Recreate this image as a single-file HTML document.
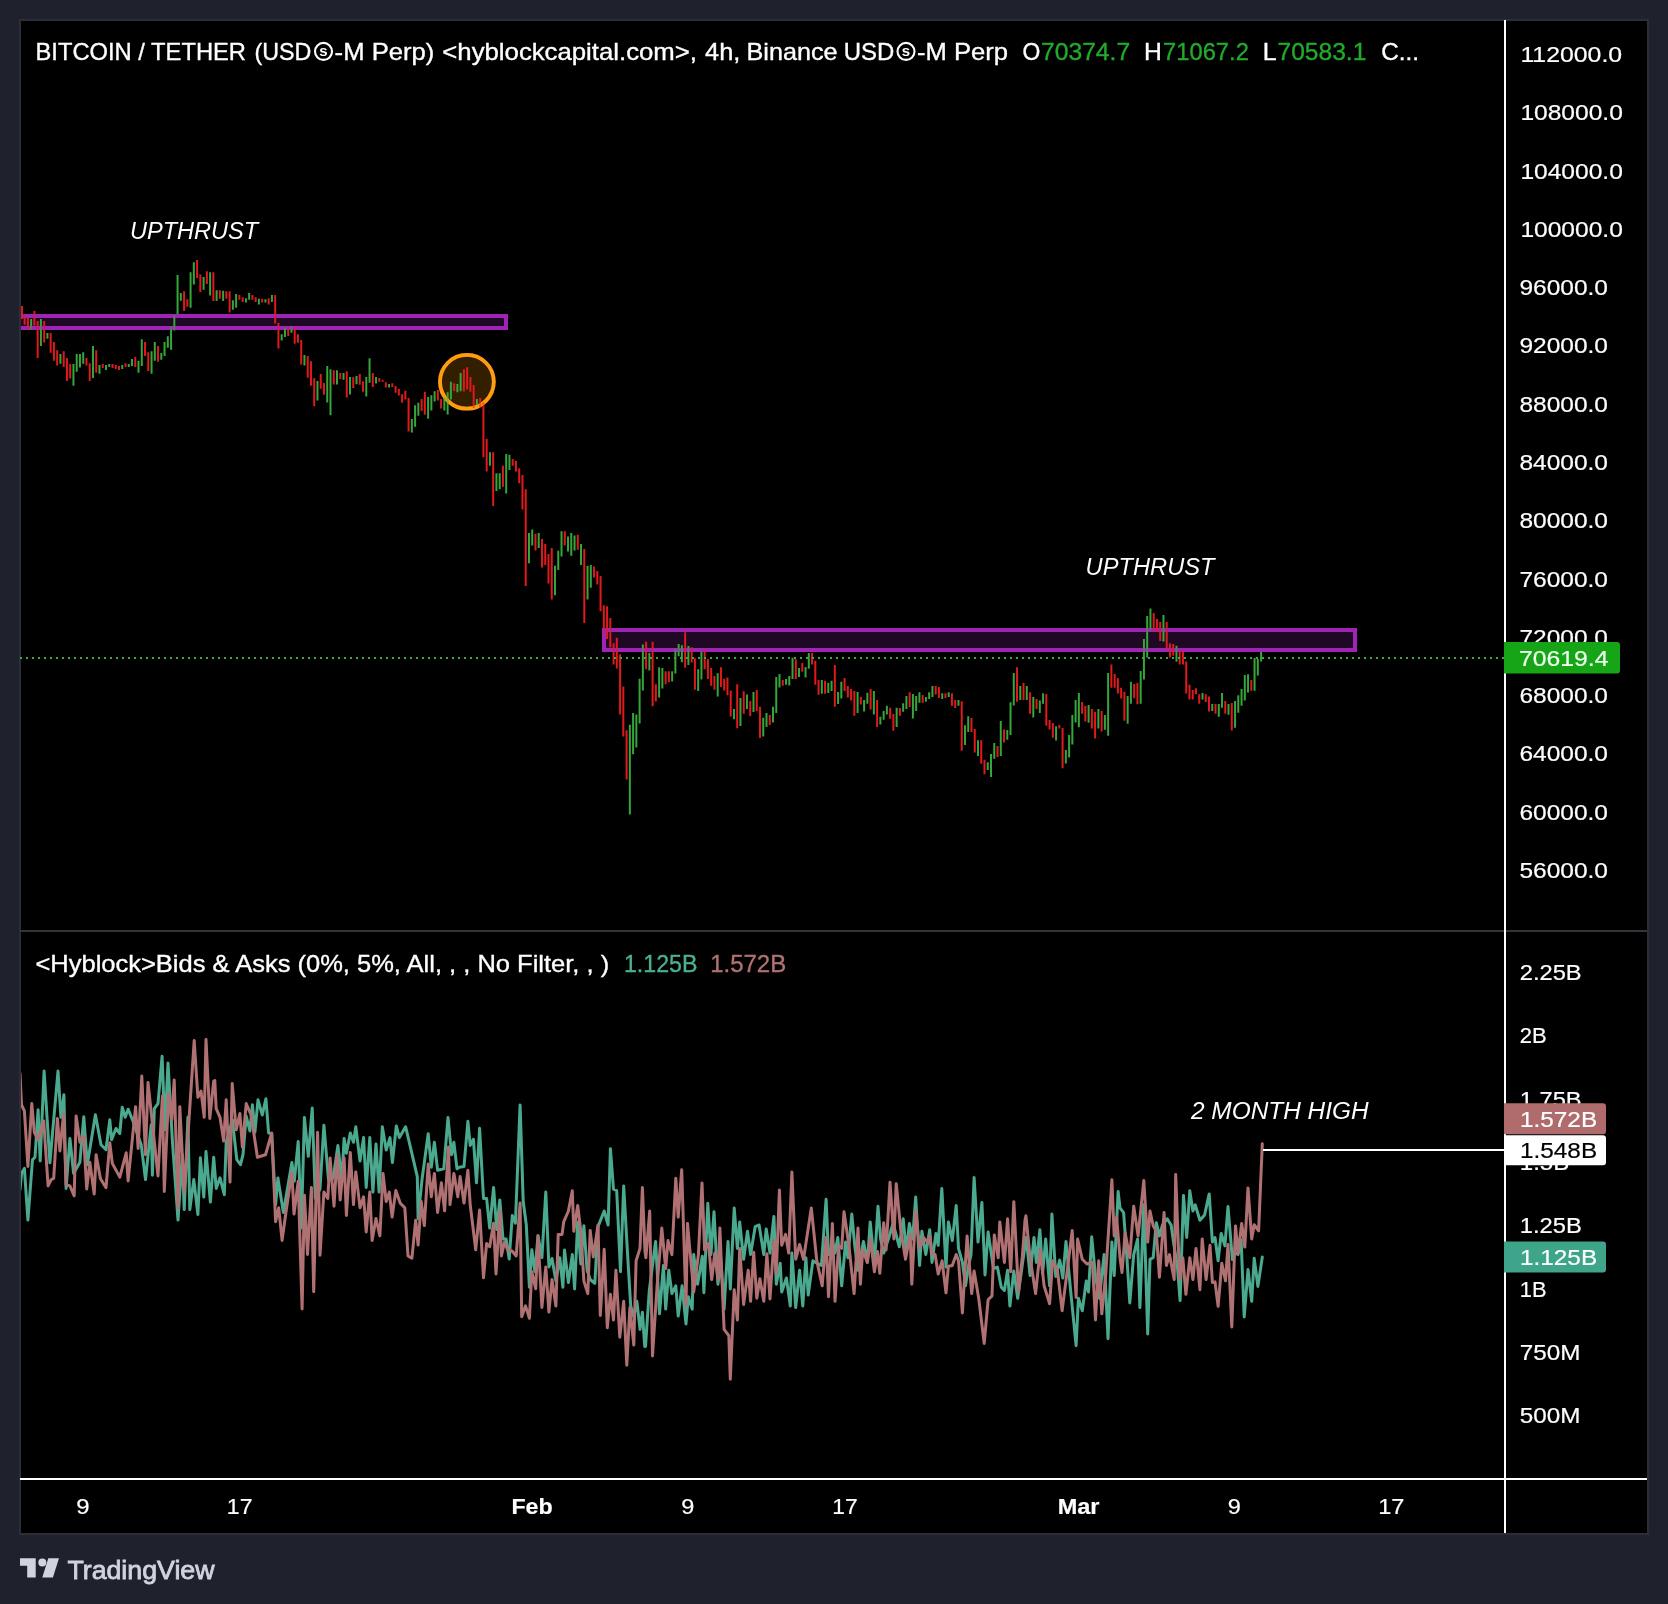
<!DOCTYPE html>
<html><head><meta charset="utf-8"><style>html,body{margin:0;padding:0;background:#1f222d;width:1668px;height:1604px;overflow:hidden}svg{display:block;will-change:transform}</style></head>
<body><svg width="1668" height="1604" viewBox="0 0 1668 1604"><rect x="0" y="0" width="1668" height="1604" fill="#1f222d"/><rect x="19" y="19" width="1630" height="1516" fill="#2b2e37"/><rect x="21" y="21" width="1626" height="1512" fill="#000"/><rect x="20" y="930" width="1627" height="2" fill="#333539"/><circle cx="466.9" cy="381.8" r="26.9" fill="rgba(255,152,0,0.2)" stroke="#ff9d12" stroke-width="3.8"/><rect x="21" y="316" width="485" height="12" fill="rgba(156,39,176,0.2)"/><path d="M21 316H506V328H21" fill="none" stroke="#a326ba" stroke-opacity="0.95" stroke-width="4"/><rect x="604" y="630" width="751" height="20" fill="rgba(156,39,176,0.2)" stroke="#a326ba" stroke-opacity="0.95" stroke-width="4"/><path d="M21.00 306.1h2v12.9h-2zM23.64 315.2h2v9.6h-2zM26.90 318.1h2v11.5h-2zM33.40 310.9h2v14.9h-2zM36.66 321.0h2v36.9h-2zM43.17 321.0h2v21.6h-2zM49.67 333.0h2v19.7h-2zM52.93 342.1h2v18.7h-2zM56.18 350.2h2v15.3h-2zM62.69 351.2h2v15.8h-2zM65.94 357.9h2v23.0h-2zM69.19 364.1h2v14.4h-2zM85.46 357.9h2v7.7h-2zM88.72 363.2h2v17.7h-2zM95.22 350.2h2v22.5h-2zM101.73 364.1h2v3.8h-2zM111.49 364.1h2v3.8h-2zM114.75 365.1h2v3.8h-2zM118.00 366.1h2v3.8h-2zM124.51 363.2h2v3.8h-2zM134.27 357.0h2v10.1h-2zM144.03 342.1h2v13.9h-2zM147.28 352.2h2v18.7h-2zM157.05 345.9h2v15.8h-2zM183.08 291.3h2v19.6h-2zM186.33 299.3h2v7.4h-2zM196.09 260.1h2v18.0h-2zM199.34 274.4h2v17.5h-2zM205.85 271.2h2v12.7h-2zM212.36 272.3h2v28.6h-2zM218.87 290.3h2v8.5h-2zM225.37 291.3h2v7.4h-2zM228.63 291.3h2v21.2h-2zM238.39 295.0h2v4.8h-2zM241.64 297.2h2v4.8h-2zM251.40 295.0h2v4.8h-2zM254.66 297.2h2v4.8h-2zM261.17 298.7h2v3.7h-2zM267.67 298.2h2v6.4h-2zM274.18 295.0h2v28.6h-2zM277.43 323.1h2v25.4h-2zM287.20 327.4h2v8.5h-2zM293.70 327.4h2v16.4h-2zM296.96 334.2h2v8.5h-2zM300.21 340.1h2v24.4h-2zM306.72 356.0h2v21.7h-2zM309.97 361.3h2v24.4h-2zM313.23 378.2h2v28.1h-2zM319.73 374.0h2v14.8h-2zM322.99 383.0h2v11.7h-2zM332.75 370.2h2v14.4h-2zM339.26 373.1h2v5.8h-2zM345.76 371.2h2v26.4h-2zM352.27 376.9h2v11.0h-2zM358.78 374.1h2v10.6h-2zM362.03 381.2h2v10.6h-2zM371.79 373.1h2v13.9h-2zM378.30 377.9h2v3.8h-2zM381.55 379.8h2v2.0h-2zM384.81 382.2h2v5.3h-2zM391.32 383.2h2v3.8h-2zM394.57 386.0h2v6.7h-2zM397.82 388.9h2v6.7h-2zM401.08 394.2h2v8.6h-2zM404.33 390.8h2v8.6h-2zM407.58 398.0h2v33.6h-2zM420.60 399.0h2v12.0h-2zM423.85 391.8h2v23.0h-2zM436.87 389.9h2v10.6h-2zM440.12 399.0h2v9.6h-2zM453.14 383.2h2v7.7h-2zM462.90 369.3h2v22.1h-2zM466.15 367.3h2v22.1h-2zM469.41 376.9h2v14.9h-2zM472.66 385.1h2v23.0h-2zM479.17 398.0h2v9.6h-2zM482.42 402.6h2v54.7h-2zM485.67 438.8h2v32.8h-2zM492.18 452.2h2v53.8h-2zM501.94 465.7h2v21.0h-2zM511.70 459.0h2v6.7h-2zM514.96 460.7h2v10.9h-2zM518.21 468.2h2v15.1h-2zM521.47 475.0h2v34.5h-2zM524.72 489.3h2v96.7h-2zM534.48 533.8h2v16.8h-2zM540.99 538.9h2v28.6h-2zM544.24 543.9h2v21.0h-2zM547.50 554.0h2v29.4h-2zM550.75 548.1h2v51.3h-2zM563.76 531.3h2v14.3h-2zM576.78 534.7h2v15.1h-2zM583.29 549.0h2v74.0h-2zM593.05 566.6h2v10.9h-2zM596.30 570.9h2v13.5h-2zM599.56 575.9h2v35.3h-2zM602.81 605.3h2v27.8h-2zM606.06 606.2h2v32.8h-2zM609.32 618.0h2v29.4h-2zM612.57 643.2h2v21.3h-2zM615.82 637.7h2v30.8h-2zM619.08 654.2h2v60.3h-2zM622.33 686.4h2v50.0h-2zM625.59 730.2h2v49.4h-2zM645.11 641.8h2v27.4h-2zM651.62 641.8h2v64.4h-2zM654.87 684.3h2v17.1h-2zM664.63 671.3h2v13.0h-2zM667.88 671.3h2v11.0h-2zM684.15 632.2h2v35.6h-2zM690.66 647.3h2v15.1h-2zM693.91 658.3h2v31.5h-2zM703.67 649.4h2v19.9h-2zM706.93 659.0h2v19.9h-2zM710.18 667.9h2v17.8h-2zM713.44 676.1h2v13.7h-2zM719.94 667.2h2v19.9h-2zM723.20 678.8h2v11.7h-2zM726.45 677.5h2v17.8h-2zM729.70 690.5h2v26.0h-2zM736.21 684.3h2v43.9h-2zM742.72 691.2h2v22.6h-2zM749.23 701.0h2v14.9h-2zM755.73 690.0h2v21.1h-2zM758.99 706.7h2v31.2h-2zM768.75 714.9h2v10.1h-2zM781.76 679.9h2v5.8h-2zM794.78 659.3h2v19.7h-2zM801.29 663.1h2v8.6h-2zM811.05 653.0h2v11.5h-2zM814.30 660.7h2v24.0h-2zM817.56 679.9h2v14.9h-2zM824.06 680.8h2v12.9h-2zM833.82 665.0h2v41.7h-2zM843.59 678.0h2v12.9h-2zM846.84 686.1h2v11.5h-2zM850.09 689.0h2v11.5h-2zM853.35 690.9h2v24.9h-2zM859.85 696.7h2v7.7h-2zM869.62 689.0h2v20.6h-2zM876.12 700.0h2v26.9h-2zM889.14 707.7h2v11.0h-2zM892.39 713.9h2v16.8h-2zM898.90 708.0h2v7.7h-2zM908.66 692.2h2v14.9h-2zM921.68 695.1h2v7.7h-2zM934.69 686.0h2v8.6h-2zM937.94 686.9h2v11.0h-2zM944.45 693.2h2v4.8h-2zM950.96 693.2h2v12.5h-2zM954.21 699.9h2v8.2h-2zM960.72 701.3h2v49.4h-2zM970.48 718.1h2v13.9h-2zM973.74 729.1h2v23.5h-2zM980.24 740.2h2v23.5h-2zM983.50 759.8h2v14.4h-2zM996.51 745.9h2v11.0h-2zM1003.02 729.6h2v12.9h-2zM1016.03 667.3h2v34.5h-2zM1022.54 683.1h2v16.8h-2zM1029.05 692.2h2v21.6h-2zM1035.56 698.9h2v10.1h-2zM1045.32 694.1h2v31.7h-2zM1048.57 720.0h2v9.6h-2zM1051.83 722.9h2v14.9h-2zM1058.33 725.0h2v3.6h-2zM1061.59 728.0h2v40.3h-2zM1081.11 701.9h2v11.8h-2zM1084.36 706.1h2v15.4h-2zM1090.87 709.0h2v19.5h-2zM1094.12 712.0h2v26.6h-2zM1100.63 710.8h2v20.7h-2zM1110.39 664.6h2v23.1h-2zM1113.65 674.1h2v13.6h-2zM1116.90 678.2h2v15.4h-2zM1120.15 687.7h2v10.7h-2zM1123.41 691.8h2v29.0h-2zM1133.17 684.1h2v14.2h-2zM1136.42 683.0h2v21.3h-2zM1152.69 613.1h2v18.9h-2zM1155.95 619.0h2v13.0h-2zM1159.20 622.0h2v18.9h-2zM1165.71 622.0h2v27.2h-2zM1168.96 643.3h2v14.2h-2zM1172.21 643.9h2v11.8h-2zM1178.72 650.4h2v14.2h-2zM1181.98 650.4h2v14.2h-2zM1185.23 661.6h2v32.0h-2zM1188.48 684.7h2v14.8h-2zM1191.74 690.1h2v9.5h-2zM1194.99 688.3h2v5.9h-2zM1198.24 694.2h2v9.5h-2zM1204.75 694.2h2v7.7h-2zM1208.01 696.6h2v14.8h-2zM1214.51 704.1h2v9.6h-2zM1224.27 701.0h2v12.7h-2zM1230.78 703.0h2v27.4h-2zM1250.30 680.1h2v10.6h-2z" fill="#e0191b"/><path d="M30.15 319.1h2v10.6h-2zM39.91 319.1h2v26.9h-2zM46.42 333.0h2v5.8h-2zM59.43 354.1h2v9.6h-2zM72.45 364.1h2v21.6h-2zM75.70 354.1h2v17.7h-2zM78.96 354.1h2v13.4h-2zM82.21 352.2h2v11.5h-2zM91.97 345.9h2v32.1h-2zM98.48 365.1h2v8.6h-2zM104.99 365.1h2v4.8h-2zM108.24 364.1h2v2.9h-2zM121.25 365.1h2v3.8h-2zM127.76 364.1h2v2.9h-2zM131.02 358.9h2v7.2h-2zM137.52 360.8h2v12.0h-2zM140.78 339.2h2v26.9h-2zM150.54 351.2h2v22.5h-2zM153.79 342.1h2v18.7h-2zM160.30 353.1h2v6.7h-2zM163.55 342.1h2v13.9h-2zM166.81 336.3h2v11.5h-2zM170.06 326.3h2v23.5h-2zM173.31 315.2h2v15.3h-2zM176.57 274.9h2v39.7h-2zM179.82 292.9h2v7.9h-2zM189.58 272.3h2v35.5h-2zM192.84 262.2h2v22.3h-2zM202.60 277.0h2v12.7h-2zM209.11 272.3h2v23.3h-2zM215.61 290.3h2v10.6h-2zM222.12 290.8h2v10.1h-2zM231.88 300.3h2v9.5h-2zM235.14 294.0h2v13.8h-2zM244.90 298.2h2v4.2h-2zM248.15 292.9h2v6.9h-2zM257.91 298.7h2v5.8h-2zM264.42 299.3h2v3.2h-2zM270.93 295.0h2v6.9h-2zM280.69 334.2h2v6.4h-2zM283.94 327.4h2v9.5h-2zM290.45 326.3h2v6.4h-2zM303.46 354.9h2v10.6h-2zM316.48 380.9h2v19.6h-2zM326.24 366.0h2v36.6h-2zM329.49 369.2h2v46.1h-2zM336.00 370.2h2v14.4h-2zM342.51 373.1h2v6.7h-2zM349.02 376.9h2v17.7h-2zM355.52 376.0h2v8.2h-2zM365.29 376.9h2v19.7h-2zM368.54 358.2h2v24.5h-2zM375.05 376.9h2v6.7h-2zM388.06 384.1h2v3.4h-2zM410.84 419.1h2v13.4h-2zM414.09 405.2h2v21.6h-2zM417.35 402.8h2v12.9h-2zM427.11 397.1h2v21.6h-2zM430.36 395.2h2v15.3h-2zM433.61 391.3h2v10.1h-2zM443.38 397.6h2v12.9h-2zM446.63 392.3h2v22.1h-2zM449.88 381.7h2v17.7h-2zM456.39 384.1h2v8.2h-2zM459.64 373.1h2v18.2h-2zM475.91 399.0h2v6.2h-2zM488.93 452.2h2v13.5h-2zM495.44 473.3h2v17.7h-2zM498.69 473.3h2v16.0h-2zM505.20 453.9h2v39.5h-2zM508.45 454.8h2v15.1h-2zM527.97 533.0h2v30.3h-2zM531.23 529.6h2v16.0h-2zM537.73 533.0h2v15.1h-2zM554.00 565.8h2v29.4h-2zM557.26 550.7h2v19.3h-2zM560.51 531.3h2v25.2h-2zM567.02 536.4h2v15.1h-2zM570.27 533.0h2v22.7h-2zM573.53 535.5h2v15.1h-2zM580.03 543.9h2v21.0h-2zM586.54 565.8h2v33.6h-2zM589.79 565.0h2v22.7h-2zM628.84 724.8h2v89.8h-2zM632.09 713.1h2v41.1h-2zM635.35 714.5h2v32.9h-2zM638.60 678.8h2v44.6h-2zM641.85 644.6h2v45.9h-2zM648.36 652.8h2v17.8h-2zM658.12 667.2h2v30.2h-2zM661.38 667.9h2v20.6h-2zM671.14 671.3h2v10.3h-2zM674.39 648.7h2v24.7h-2zM677.65 643.9h2v12.3h-2zM680.90 645.2h2v17.1h-2zM687.41 645.9h2v19.2h-2zM697.17 669.2h2v21.9h-2zM700.42 651.4h2v28.1h-2zM716.69 673.3h2v23.3h-2zM732.96 709.0h2v10.3h-2zM739.47 698.0h2v28.1h-2zM745.97 694.6h2v14.4h-2zM752.48 691.9h2v20.1h-2zM762.24 717.8h2v18.7h-2zM765.50 713.0h2v13.9h-2zM772.00 706.7h2v15.8h-2zM775.26 677.0h2v36.0h-2zM778.51 674.1h2v13.4h-2zM785.02 678.9h2v5.8h-2zM788.27 676.0h2v9.6h-2zM791.53 657.8h2v21.1h-2zM798.03 667.9h2v9.1h-2zM804.54 666.9h2v10.6h-2zM807.79 653.0h2v15.8h-2zM820.81 679.9h2v13.9h-2zM827.32 682.8h2v10.1h-2zM830.57 680.8h2v10.1h-2zM837.08 691.9h2v12.0h-2zM840.33 681.8h2v16.8h-2zM856.60 691.9h2v21.1h-2zM863.11 700.0h2v11.5h-2zM866.36 692.8h2v11.0h-2zM872.87 690.9h2v23.5h-2zM879.38 716.8h2v7.7h-2zM882.63 711.1h2v8.6h-2zM885.88 705.8h2v8.6h-2zM895.65 707.7h2v19.2h-2zM902.15 703.2h2v8.6h-2zM905.41 696.0h2v12.9h-2zM911.91 694.1h2v24.5h-2zM915.17 696.0h2v14.9h-2zM918.42 692.2h2v10.6h-2zM924.93 697.0h2v4.8h-2zM928.18 692.2h2v6.7h-2zM931.44 686.0h2v11.0h-2zM941.20 693.2h2v5.8h-2zM947.71 692.2h2v4.8h-2zM957.47 699.9h2v5.8h-2zM963.97 725.3h2v19.7h-2zM967.23 716.2h2v15.8h-2zM976.99 740.2h2v15.8h-2zM986.75 762.2h2v7.7h-2zM990.00 754.1h2v23.0h-2zM993.26 743.0h2v15.8h-2zM999.77 721.0h2v35.0h-2zM1006.27 730.1h2v9.6h-2zM1009.53 702.3h2v32.6h-2zM1012.78 673.0h2v32.6h-2zM1019.29 686.0h2v13.9h-2zM1025.80 686.0h2v13.9h-2zM1032.30 697.0h2v20.6h-2zM1038.81 700.4h2v12.5h-2zM1042.06 693.2h2v10.6h-2zM1055.08 726.2h2v14.2h-2zM1064.84 749.9h2v13.6h-2zM1068.09 735.1h2v22.5h-2zM1071.35 714.9h2v29.6h-2zM1074.60 700.1h2v22.5h-2zM1077.86 693.0h2v34.3h-2zM1087.62 704.9h2v17.8h-2zM1097.38 709.0h2v19.5h-2zM1103.89 714.9h2v14.8h-2zM1107.14 672.9h2v62.8h-2zM1126.66 696.0h2v27.8h-2zM1129.92 681.8h2v21.9h-2zM1139.68 671.1h2v32.6h-2zM1142.93 639.1h2v40.3h-2zM1146.18 616.1h2v41.4h-2zM1149.44 608.4h2v21.3h-2zM1162.45 614.9h2v26.6h-2zM1175.47 645.7h2v16.0h-2zM1201.50 693.0h2v6.5h-2zM1211.26 704.1h2v6.9h-2zM1217.77 704.1h2v12.7h-2zM1221.02 693.1h2v14.7h-2zM1227.53 704.1h2v10.6h-2zM1234.04 701.0h2v26.7h-2zM1237.29 695.2h2v17.5h-2zM1240.54 689.0h2v16.8h-2zM1243.80 674.9h2v25.7h-2zM1247.05 674.2h2v18.2h-2zM1253.56 658.1h2v32.6h-2zM1256.81 659.1h2v16.5h-2zM1260.07 651.9h2v9.6h-2z" fill="#35a63a"/><path d="M21 316H506V328H21" fill="none" stroke="#a326ba" stroke-opacity="0.4" stroke-width="4"/><rect x="604" y="630" width="751" height="20" fill="none" stroke="#a326ba" stroke-opacity="0.4" stroke-width="4"/><circle cx="466.9" cy="381.8" r="26.9" fill="none" stroke="#ff9d12" stroke-opacity="0.45" stroke-width="3.8"/><line x1="20" y1="658" x2="1504" y2="658" stroke="#3daa45" stroke-width="2" stroke-dasharray="2 4" stroke-dashoffset="0"/><defs><clipPath id="cp"><rect x="21" y="932" width="1483" height="546"/></clipPath></defs><g clip-path="url(#cp)"><polyline points="20.0,1189.6 21.5,1173.4 24.4,1168.4 27.9,1220.1 32.5,1159.7 35.0,1157.2 38.1,1109.8 40.2,1160.9 44.1,1071.1 49.9,1162.8 58.0,1071.1 60.9,1117.3 63.9,1094.8 66.1,1188.4 69.9,1138.5 73.6,1173.4 79.9,1162.2 83.8,1116.7 87.3,1164.7 95.4,1114.8 101.0,1144.7 106.0,1149.7 109.8,1119.8 111.6,1139.7 116.0,1128.5 119.8,1133.5 122.2,1107.3 125.2,1117.3 128.1,1109.2 132.5,1119.8 141.2,1144.7 145.5,1179.6 151.2,1124.8 152.4,1175.3 154.3,1108.6 158.0,1103.6 162.1,1056.2 164.9,1129.8 168.0,1063.0 172.4,1141.0 178.0,1220.1 182.3,1154.7 184.2,1209.6 187.9,1117.3 189.8,1209.6 193.8,1179.6 197.9,1214.5 200.4,1157.8 203.8,1197.1 206.0,1151.6 210.4,1202.1 213.7,1157.2 216.2,1188.4 220.0,1177.8 224.3,1194.6 226.2,1142.2 232.4,1119.8 236.8,1159.7 240.5,1164.7 243.0,1154.7 246.2,1116.0 249.9,1131.0 252.4,1104.8 254.9,1132.2 258.0,1099.8 262.3,1115.0 265.9,1098.7 268.6,1133.0 271.7,1133.7 275.6,1204.6 277.9,1178.1 283.4,1212.4 291.9,1162.6 294.3,1181.2 298.2,1141.5 301.3,1228.0 304.4,1117.4 308.3,1156.3 312.2,1108.0 315.3,1198.4 320.0,1189.0 323.9,1125.2 328.5,1179.7 333.2,1178.1 337.9,1145.4 341.8,1181.2 344.1,1138.4 346.4,1153.2 350.3,1133.0 353.5,1142.3 355.8,1126.7 360.0,1161.0 363.6,1137.6 366.2,1187.5 369.8,1137.6 372.9,1192.1 376.0,1143.9 379.1,1192.1 382.3,1126.7 386.2,1150.1 390.0,1137.6 392.4,1162.6 396.3,1126.0 399.4,1137.6 405.6,1126.7 417.3,1176.6 418.1,1218.6 422.0,1179.7 428.2,1133.7 431.3,1167.2 434.4,1142.3 437.6,1170.3 443.8,1168.8 448.0,1117.4 451.6,1154.8 453.9,1142.3 457.0,1168.8 459.3,1167.2 464.0,1166.4 467.9,1121.3 470.2,1145.4 473.4,1139.2 476.5,1182.8 479.6,1128.3 483.5,1198.4 486.6,1198.4 489.7,1228.0 493.6,1187.5 496.7,1229.5 499.8,1199.9 503.0,1238.9 506.1,1238.9 509.2,1259.1 512.3,1215.5 515.4,1223.3 520.1,1104.9 523.2,1201.5 526.3,1224.9 529.4,1287.2 531.8,1249.8 534.9,1271.6 538.0,1235.8 541.9,1257.6 545.8,1192.1 548.9,1266.9 552.0,1258.5 555.9,1281.1 559.8,1257.7 562.9,1287.3 564.5,1249.9 568.4,1282.6 572.3,1254.6 574.6,1288.9 577.7,1221.9 580.8,1264.0 583.9,1225.8 587.1,1270.2 590.2,1279.5 594.8,1283.4 598.0,1226.6 604.2,1211.0 608.1,1225.0 610.4,1148.7 613.5,1189.2 616.7,1190.7 620.5,1271.7 623.7,1186.1 627.6,1254.6 630.7,1306.0 633.8,1316.9 636.9,1301.3 640.0,1329.4 642.4,1312.2 644.7,1346.5 645.5,1346.5 649.3,1290.4 655.6,1241.4 659.5,1313.8 663.4,1265.5 665.7,1309.1 668.8,1270.2 671.9,1293.6 675.8,1285.8 678.2,1316.1 682.1,1285.8 686.0,1323.9 688.3,1296.7 692.2,1309.1 693.7,1254.6 697.6,1284.2 702.3,1256.2 703.9,1292.8 707.8,1203.2 710.9,1254.6 714.0,1211.8 717.9,1284.2 721.0,1262.4 724.1,1309.1 728.0,1241.4 730.3,1288.9 734.2,1207.9 737.4,1248.4 739.7,1221.9 743.6,1259.3 747.5,1231.2 750.6,1254.6 755.2,1226.6 759.1,1225.0 763.8,1254.6 766.2,1228.9 770.0,1253.1 773.9,1216.4 776.3,1284.2 780.2,1263.2 781.7,1292.0 786.4,1278.0 790.3,1306.0 791.9,1253.1 795.7,1307.6 799.6,1270.2 802.8,1306.0 805.9,1257.7 808.2,1295.1 812.9,1260.8 816.8,1263.2 821.4,1265.5 826.1,1199.3 828.5,1254.6 833.1,1243.7 835.0,1253.1 837.8,1237.5 841.7,1285.8 845.6,1242.1 847.9,1257.7 851.8,1214.1 854.9,1246.8 858.0,1270.2 863.5,1241.4 867.4,1262.4 870.2,1221.9 874.4,1264.0 878.0,1206.3 880.6,1239.0 883.7,1253.1 888.4,1239.0 893.1,1223.5 899.3,1246.8 903.2,1218.8 906.3,1251.5 909.4,1223.5 912.6,1239.0 915.7,1197.0 919.6,1265.5 921.9,1231.2 925.8,1254.6 929.7,1229.7 932.0,1262.4 935.9,1233.6 938.2,1245.3 941.8,1188.4 946.0,1267.1 948.4,1221.9 952.3,1240.6 956.2,1205.5 958.5,1248.4 962.4,1262.4 965.5,1285.8 968.6,1265.5 971.0,1254.6 974.1,1177.5 978.0,1242.1 981.9,1202.4 985.0,1274.9 988.1,1232.0 993.5,1268.6 997.4,1267.1 1001.3,1287.3 1004.4,1290.4 1007.6,1270.2 1009.9,1306.0 1013.8,1271.0 1017.7,1298.2 1022.4,1264.0 1026.2,1237.5 1030.1,1275.6 1034.0,1237.5 1036.4,1262.4 1039.9,1229.7 1042.6,1273.3 1045.7,1239.0 1049.6,1285.8 1051.9,1214.1 1055.8,1276.4 1059.7,1260.1 1062.8,1278.0 1066.0,1241.4 1070.6,1290.4 1076.1,1345.7 1078.4,1298.2 1082.3,1310.7 1086.2,1281.1 1088.5,1292.0 1091.7,1236.7 1095.5,1276.4 1099.4,1298.2 1104.1,1254.6 1108.0,1338.7 1111.9,1242.1 1114.2,1275.6 1118.1,1191.5 1120.0,1207.9 1123.6,1212.6 1126.7,1254.6 1129.8,1302.9 1133.7,1254.6 1137.6,1239.0 1139.9,1307.6 1143.8,1204.8 1147.7,1334.0 1150.0,1259.3 1153.2,1257.7 1156.3,1222.7 1159.4,1235.9 1162.5,1225.0 1167.2,1218.8 1171.1,1225.0 1174.2,1246.8 1177.3,1265.5 1180.1,1300.6 1183.5,1195.4 1186.7,1237.5 1189.8,1190.7 1192.9,1211.0 1195.2,1204.8 1199.9,1220.3 1204.6,1214.9 1209.2,1193.9 1212.4,1242.1 1215.0,1237.5 1218.1,1260.8 1221.2,1233.4 1224.9,1245.9 1228.0,1206.6 1232.4,1259.6 1234.9,1252.1 1238.0,1254.6 1241.1,1239.7 1244.2,1316.9 1248.0,1269.6 1251.7,1301.3 1254.2,1258.3 1257.9,1286.4 1262.3,1257.1" fill="none" stroke="#4aa98e" stroke-width="3" stroke-linejoin="round" stroke-linecap="round"/><polyline points="20.0,1073.6 21.5,1104.8 24.4,1111.0 27.9,1166.5 31.8,1103.6 34.3,1132.2 38.1,1139.7 43.7,1121.0 48.1,1185.9 51.2,1179.6 53.7,1178.4 57.4,1118.5 59.9,1150.9 63.6,1113.5 66.1,1184.6 69.9,1185.9 74.2,1195.8 76.1,1116.0 79.9,1142.2 83.6,1136.0 86.7,1189.0 89.8,1162.2 94.2,1194.0 96.1,1154.7 100.4,1178.4 106.0,1187.7 109.8,1142.8 112.3,1163.4 119.8,1177.1 126.2,1152.8 128.1,1180.9 135.6,1106.7 138.1,1148.5 141.8,1076.1 145.5,1154.7 148.0,1082.4 152.4,1123.5 158.0,1175.9 162.4,1096.1 164.3,1191.5 168.6,1093.6 171.7,1119.8 174.2,1079.9 178.0,1208.3 179.8,1106.7 184.2,1192.1 194.2,1040.6 197.9,1097.3 201.0,1091.1 204.2,1117.3 206.0,1039.4 209.8,1118.5 213.7,1081.1 214.8,1080.5 216.2,1108.6 220.0,1117.3 223.7,1141.0 226.2,1099.8 230.0,1182.1 232.2,1083.6 236.2,1129.8 239.9,1113.5 242.4,1147.2 246.2,1103.6 251.1,1114.8 257.4,1157.2 265.5,1154.8 271.7,1133.0 275.6,1221.7 278.7,1207.7 282.1,1240.4 285.7,1214.0 291.9,1171.9 294.0,1214.0 298.2,1181.2 302.1,1309.0 304.4,1195.3 307.5,1254.5 311.4,1187.5 313.7,1291.8 317.6,1132.2 320.0,1255.2 323.9,1192.1 327.8,1198.4 330.1,1157.9 334.0,1206.2 337.1,1154.8 340.2,1199.9 344.1,1157.9 346.4,1215.5 350.3,1152.4 353.5,1204.6 355.8,1171.9 360.0,1207.7 363.6,1196.8 366.2,1231.9 369.8,1192.1 372.1,1240.4 376.0,1218.6 379.9,1235.8 383.0,1173.5 386.2,1201.5 389.3,1192.1 392.1,1217.1 395.8,1190.6 400.2,1203.1 404.8,1207.7 408.0,1256.0 411.9,1258.3 415.7,1220.2 418.1,1245.1 421.2,1201.5 424.3,1225.6 428.2,1164.1 431.3,1196.8 434.4,1173.5 437.6,1212.4 441.4,1182.8 444.6,1210.8 448.5,1147.0 450.0,1204.6 453.9,1173.5 457.8,1196.8 460.1,1176.6 464.0,1203.1 467.9,1170.3 470.2,1204.6 475.7,1249.8 479.6,1210.1 483.5,1277.8 486.6,1243.6 489.7,1246.7 493.6,1223.3 496.0,1273.9 499.8,1210.8 501.4,1256.0 504.5,1242.0 507.6,1249.8 512.3,1251.3 516.2,1256.0 520.1,1203.1 521.7,1316.8 525.5,1305.9 529.4,1318.3 531.8,1271.6 535.7,1288.7 538.0,1235.8 541.9,1307.4 545.8,1266.9 548.9,1312.1 552.0,1279.5 555.9,1306.0 558.2,1234.4 562.1,1234.4 563.7,1221.9 568.4,1211.0 572.3,1190.7 573.8,1231.2 577.7,1205.5 580.8,1231.2 583.9,1281.1 587.8,1293.6 590.2,1230.5 593.3,1256.9 598.0,1225.0 600.3,1315.4 604.2,1249.2 607.3,1327.8 610.4,1294.3 613.5,1320.0 615.9,1270.2 619.8,1337.2 623.7,1301.3 626.8,1365.2 629.9,1307.6 633.8,1345.0 636.1,1260.8 640.0,1248.4 642.4,1187.6 645.0,1251.5 645.9,1257.7 649.7,1211.0 652.5,1355.9 657.1,1285.8 661.8,1228.1 665.7,1268.6 668.0,1240.6 671.9,1254.6 675.8,1178.3 678.2,1217.2 681.7,1169.7 686.0,1306.0 687.5,1223.5 693.7,1292.0 698.4,1254.6 702.0,1183.0 704.6,1249.9 708.5,1243.7 711.7,1279.5 714.8,1253.1 717.9,1279.5 719.9,1228.1 724.1,1329.4 728.8,1335.6 730.3,1379.2 734.2,1289.7 737.4,1320.0 739.7,1248.4 743.6,1304.5 748.2,1270.2 750.6,1301.3 753.7,1252.3 756.8,1298.2 759.9,1278.8 763.8,1301.3 766.9,1253.8 770.0,1299.0 773.9,1240.6 776.3,1273.3 779.4,1190.0 781.7,1245.3 785.6,1234.4 788.7,1253.1 791.9,1172.1 795.7,1259.3 799.6,1244.5 803.5,1259.3 811.3,1207.9 816.8,1260.8 822.2,1285.8 826.1,1237.5 828.5,1296.7 832.4,1223.5 835.0,1301.3 838.6,1246.0 841.7,1248.4 844.0,1211.8 848.7,1243.7 854.1,1293.6 858.0,1228.1 860.4,1284.2 862.7,1249.9 867.4,1262.4 870.5,1239.0 874.4,1271.7 877.5,1251.5 879.8,1273.3 883.7,1222.7 886.1,1249.9 890.0,1182.2 893.9,1239.0 896.2,1183.7 900.9,1231.2 905.5,1259.3 910.2,1234.4 911.8,1284.2 915.7,1211.0 919.6,1248.4 923.5,1237.5 927.4,1242.1 930.0,1235.9 932.0,1254.6 935.1,1254.6 938.2,1274.1 942.1,1260.8 946.0,1292.8 948.4,1266.3 952.3,1265.5 956.2,1254.6 958.5,1260.8 962.4,1313.0 967.1,1235.9 971.7,1293.6 974.1,1271.0 978.7,1298.2 984.2,1343.4 988.1,1299.8 992.0,1295.9 994.3,1235.1 998.2,1257.7 999.8,1221.9 1004.4,1262.4 1007.6,1218.8 1010.7,1271.7 1013.8,1201.7 1018.5,1292.0 1022.4,1256.2 1025.0,1220.3 1025.9,1215.7 1030.1,1257.7 1035.6,1293.6 1040.2,1249.9 1044.1,1285.8 1049.6,1303.7 1052.7,1260.8 1057.4,1270.2 1062.1,1310.7 1066.7,1274.9 1072.2,1230.5 1076.1,1297.4 1077.6,1239.0 1082.3,1259.3 1087.0,1264.0 1092.4,1262.4 1095.5,1320.0 1098.7,1260.8 1101.8,1313.8 1105.7,1274.9 1111.9,1179.8 1114.2,1235.9 1116.6,1217.2 1120.0,1257.7 1122.0,1272.5 1125.1,1232.8 1129.8,1257.7 1133.7,1206.3 1138.1,1235.9 1143.8,1180.6 1147.7,1242.1 1150.0,1211.0 1153.2,1225.8 1156.3,1231.2 1159.4,1277.2 1164.1,1212.6 1166.4,1265.5 1169.5,1254.6 1174.2,1279.5 1175.7,1174.4 1179.6,1279.5 1182.8,1257.7 1185.9,1294.3 1189.8,1257.7 1192.9,1279.5 1196.0,1248.4 1199.9,1289.7 1202.2,1239.0 1206.1,1279.5 1210.0,1245.3 1212.4,1282.6 1215.0,1281.9 1218.1,1306.3 1221.8,1263.3 1225.5,1280.8 1228.0,1244.6 1231.8,1326.9 1235.5,1226.0 1238.0,1253.4 1241.7,1223.5 1244.8,1247.1 1248.0,1187.9 1251.7,1239.0 1254.2,1224.7 1258.6,1230.9 1262.3,1143.7" fill="none" stroke="#b07173" stroke-width="3" stroke-linejoin="round" stroke-linecap="round"/></g><rect x="1263" y="1149" width="241" height="2" fill="#fff"/><rect x="1504" y="20" width="2" height="1513" fill="#fff"/><rect x="20" y="1478" width="1627" height="2" fill="#fff"/><text x="1520.40" y="61.9" font-size="22.5" font-weight="normal" font-style="normal" fill="#fff" font-family="Liberation Sans, sans-serif" textLength="101.71" lengthAdjust="spacingAndGlyphs" stroke="#fff" stroke-width="0.2">112000.0</text><text x="1520.41" y="120.2" font-size="22.5" font-weight="normal" font-style="normal" fill="#fff" font-family="Liberation Sans, sans-serif" textLength="102.43" lengthAdjust="spacingAndGlyphs" stroke="#fff" stroke-width="0.2">108000.0</text><text x="1520.41" y="178.5" font-size="22.5" font-weight="normal" font-style="normal" fill="#fff" font-family="Liberation Sans, sans-serif" textLength="102.43" lengthAdjust="spacingAndGlyphs" stroke="#fff" stroke-width="0.2">104000.0</text><text x="1520.41" y="236.8" font-size="22.5" font-weight="normal" font-style="normal" fill="#fff" font-family="Liberation Sans, sans-serif" textLength="102.43" lengthAdjust="spacingAndGlyphs" stroke="#fff" stroke-width="0.2">100000.0</text><text x="1519.41" y="295.1" font-size="22.5" font-weight="normal" font-style="normal" fill="#fff" font-family="Liberation Sans, sans-serif" textLength="88.56" lengthAdjust="spacingAndGlyphs" stroke="#fff" stroke-width="0.2">96000.0</text><text x="1519.41" y="353.3" font-size="22.5" font-weight="normal" font-style="normal" fill="#fff" font-family="Liberation Sans, sans-serif" textLength="88.56" lengthAdjust="spacingAndGlyphs" stroke="#fff" stroke-width="0.2">92000.0</text><text x="1519.41" y="411.6" font-size="22.5" font-weight="normal" font-style="normal" fill="#fff" font-family="Liberation Sans, sans-serif" textLength="88.56" lengthAdjust="spacingAndGlyphs" stroke="#fff" stroke-width="0.2">88000.0</text><text x="1519.41" y="469.9" font-size="22.5" font-weight="normal" font-style="normal" fill="#fff" font-family="Liberation Sans, sans-serif" textLength="88.56" lengthAdjust="spacingAndGlyphs" stroke="#fff" stroke-width="0.2">84000.0</text><text x="1519.41" y="528.2" font-size="22.5" font-weight="normal" font-style="normal" fill="#fff" font-family="Liberation Sans, sans-serif" textLength="88.56" lengthAdjust="spacingAndGlyphs" stroke="#fff" stroke-width="0.2">80000.0</text><text x="1519.41" y="586.5" font-size="22.5" font-weight="normal" font-style="normal" fill="#fff" font-family="Liberation Sans, sans-serif" textLength="88.56" lengthAdjust="spacingAndGlyphs" stroke="#fff" stroke-width="0.2">76000.0</text><text x="1519.41" y="644.8" font-size="22.5" font-weight="normal" font-style="normal" fill="#fff" font-family="Liberation Sans, sans-serif" textLength="88.56" lengthAdjust="spacingAndGlyphs" stroke="#fff" stroke-width="0.2">72000.0</text><text x="1519.41" y="703.1" font-size="22.5" font-weight="normal" font-style="normal" fill="#fff" font-family="Liberation Sans, sans-serif" textLength="88.56" lengthAdjust="spacingAndGlyphs" stroke="#fff" stroke-width="0.2">68000.0</text><text x="1519.41" y="761.4" font-size="22.5" font-weight="normal" font-style="normal" fill="#fff" font-family="Liberation Sans, sans-serif" textLength="88.56" lengthAdjust="spacingAndGlyphs" stroke="#fff" stroke-width="0.2">64000.0</text><text x="1519.41" y="819.7" font-size="22.5" font-weight="normal" font-style="normal" fill="#fff" font-family="Liberation Sans, sans-serif" textLength="88.56" lengthAdjust="spacingAndGlyphs" stroke="#fff" stroke-width="0.2">60000.0</text><text x="1519.41" y="878.0" font-size="22.5" font-weight="normal" font-style="normal" fill="#fff" font-family="Liberation Sans, sans-serif" textLength="88.56" lengthAdjust="spacingAndGlyphs" stroke="#fff" stroke-width="0.2">56000.0</text><text x="1519.75" y="980.0" font-size="22.5" font-weight="normal" font-style="normal" fill="#fff" font-family="Liberation Sans, sans-serif" textLength="61.91" lengthAdjust="spacingAndGlyphs" stroke="#fff" stroke-width="0.2">2.25B</text><text x="1519.82" y="1043.3" font-size="22.5" font-weight="normal" font-style="normal" fill="#fff" font-family="Liberation Sans, sans-serif" textLength="26.90" lengthAdjust="spacingAndGlyphs" stroke="#fff" stroke-width="0.2">2B</text><text x="1519.75" y="1106.6" font-size="22.5" font-weight="normal" font-style="normal" fill="#fff" font-family="Liberation Sans, sans-serif" textLength="61.91" lengthAdjust="spacingAndGlyphs" stroke="#fff" stroke-width="0.2">1.75B</text><text x="1519.73" y="1169.9" font-size="22.5" font-weight="normal" font-style="normal" fill="#fff" font-family="Liberation Sans, sans-serif" textLength="49.66" lengthAdjust="spacingAndGlyphs" stroke="#fff" stroke-width="0.2">1.5B</text><text x="1519.74" y="1233.2" font-size="22.5" font-weight="normal" font-style="normal" fill="#fff" font-family="Liberation Sans, sans-serif" textLength="62.11" lengthAdjust="spacingAndGlyphs" stroke="#fff" stroke-width="0.2">1.25B</text><text x="1519.83" y="1296.5" font-size="22.5" font-weight="normal" font-style="normal" fill="#fff" font-family="Liberation Sans, sans-serif" textLength="26.68" lengthAdjust="spacingAndGlyphs" stroke="#fff" stroke-width="0.2">1B</text><text x="1519.72" y="1359.8" font-size="22.5" font-weight="normal" font-style="normal" fill="#fff" font-family="Liberation Sans, sans-serif" textLength="60.68" lengthAdjust="spacingAndGlyphs" stroke="#fff" stroke-width="0.2">750M</text><text x="1519.72" y="1423.1" font-size="22.5" font-weight="normal" font-style="normal" fill="#fff" font-family="Liberation Sans, sans-serif" textLength="60.68" lengthAdjust="spacingAndGlyphs" stroke="#fff" stroke-width="0.2">500M</text><path d="M1504 642h113a3 3 0 0 1 3 3v25.5a3 3 0 0 1 -3 3h-113z" fill="#16a516"/><path d="M1504 1103.3h99a3 3 0 0 1 3 3v25a3 3 0 0 1 -3 3h-99z" fill="#b06c6c"/><path d="M1504 1135.3h99a3 3 0 0 1 3 3v24a3 3 0 0 1 -3 3h-99z" fill="#fff"/><path d="M1504 1241.5h99a3 3 0 0 1 3 3v25a3 3 0 0 1 -3 3h-99z" fill="#3fa58a"/><text x="1519.10" y="665.5" font-size="22.5" font-weight="normal" font-style="normal" fill="#f0fff0" font-family="Liberation Sans, sans-serif" textLength="89.38" lengthAdjust="spacingAndGlyphs" stroke="#f0fff0" stroke-width="0.2">70619.4</text><text x="1520.02" y="1126.6" font-size="22.5" font-weight="normal" font-style="normal" fill="#fff" font-family="Liberation Sans, sans-serif" textLength="77.10" lengthAdjust="spacingAndGlyphs" stroke="#fff" stroke-width="0.2">1.572B</text><text x="1520.02" y="1157.6" font-size="22.5" font-weight="normal" font-style="normal" fill="#000" font-family="Liberation Sans, sans-serif" textLength="77.10" lengthAdjust="spacingAndGlyphs" stroke="#000" stroke-width="0.2">1.548B</text><text x="1520.02" y="1264.8" font-size="22.5" font-weight="normal" font-style="normal" fill="#fff" font-family="Liberation Sans, sans-serif" textLength="77.10" lengthAdjust="spacingAndGlyphs" stroke="#fff" stroke-width="0.2">1.125B</text><text x="76.34" y="1514" font-size="22.5" font-weight="normal" font-style="normal" fill="#fff" font-family="Liberation Sans, sans-serif" textLength="13.31" lengthAdjust="spacingAndGlyphs" stroke="#fff" stroke-width="0.2">9</text><text x="226.87" y="1514" font-size="22.5" font-weight="normal" font-style="normal" fill="#fff" font-family="Liberation Sans, sans-serif" textLength="25.68" lengthAdjust="spacingAndGlyphs" stroke="#fff" stroke-width="0.2">17</text><text x="511.47" y="1514" font-size="22.5" font-weight="bold" font-style="normal" fill="#fff" font-family="Liberation Sans, sans-serif" textLength="41.17" lengthAdjust="spacingAndGlyphs" stroke="#fff" stroke-width="0.2">Feb</text><text x="681.25" y="1514" font-size="22.5" font-weight="normal" font-style="normal" fill="#fff" font-family="Liberation Sans, sans-serif" textLength="13.08" lengthAdjust="spacingAndGlyphs" stroke="#fff" stroke-width="0.2">9</text><text x="832.29" y="1514" font-size="22.5" font-weight="normal" font-style="normal" fill="#fff" font-family="Liberation Sans, sans-serif" textLength="25.36" lengthAdjust="spacingAndGlyphs" stroke="#fff" stroke-width="0.2">17</text><text x="1057.65" y="1514" font-size="22.5" font-weight="bold" font-style="normal" fill="#fff" font-family="Liberation Sans, sans-serif" textLength="41.86" lengthAdjust="spacingAndGlyphs" stroke="#fff" stroke-width="0.2">Mar</text><text x="1227.65" y="1514" font-size="22.5" font-weight="normal" font-style="normal" fill="#fff" font-family="Liberation Sans, sans-serif" textLength="13.08" lengthAdjust="spacingAndGlyphs" stroke="#fff" stroke-width="0.2">9</text><text x="1378.26" y="1514" font-size="22.5" font-weight="normal" font-style="normal" fill="#fff" font-family="Liberation Sans, sans-serif" textLength="26.12" lengthAdjust="spacingAndGlyphs" stroke="#fff" stroke-width="0.2">17</text><text x="35.52" y="60" font-size="24" font-weight="normal" font-style="normal" fill="#fff" font-family="Liberation Sans, sans-serif" textLength="210.47" lengthAdjust="spacingAndGlyphs" stroke="#fff" stroke-width="0.35">BITCOIN / TETHER</text><text x="254.43" y="60" font-size="24" font-weight="normal" font-style="normal" fill="#fff" font-family="Liberation Sans, sans-serif" textLength="56.82" lengthAdjust="spacingAndGlyphs" stroke="#fff" stroke-width="0.35">(USD</text><text x="334.63" y="60" font-size="24" font-weight="normal" font-style="normal" fill="#fff" font-family="Liberation Sans, sans-serif" textLength="99.70" lengthAdjust="spacingAndGlyphs" stroke="#fff" stroke-width="0.35">-M Perp)</text><text x="442.33" y="60" font-size="24" font-weight="normal" font-style="normal" fill="#fff" font-family="Liberation Sans, sans-serif" textLength="254.65" lengthAdjust="spacingAndGlyphs" stroke="#fff" stroke-width="0.35">&lt;hyblockcapital.com&gt;,</text><text x="705.10" y="60" font-size="24" font-weight="normal" font-style="normal" fill="#fff" font-family="Liberation Sans, sans-serif" textLength="35.25" lengthAdjust="spacingAndGlyphs" stroke="#fff" stroke-width="0.35">4h,</text><text x="746.50" y="60" font-size="24" font-weight="normal" font-style="normal" fill="#fff" font-family="Liberation Sans, sans-serif" textLength="90.97" lengthAdjust="spacingAndGlyphs" stroke="#fff" stroke-width="0.35">Binance</text><text x="843.71" y="60" font-size="24" font-weight="normal" font-style="normal" fill="#fff" font-family="Liberation Sans, sans-serif" textLength="50.46" lengthAdjust="spacingAndGlyphs" stroke="#fff" stroke-width="0.35">USD</text><text x="917.03" y="60" font-size="24" font-weight="normal" font-style="normal" fill="#fff" font-family="Liberation Sans, sans-serif" textLength="90.95" lengthAdjust="spacingAndGlyphs" stroke="#fff" stroke-width="0.35">-M Perp</text><text x="1022.55" y="60" font-size="24" font-weight="normal" font-style="normal" fill="#fff" font-family="Liberation Sans, sans-serif" textLength="17.79" lengthAdjust="spacingAndGlyphs" stroke="#fff" stroke-width="0.35">O</text><text x="1040.97" y="60" font-size="24" font-weight="normal" font-style="normal" fill="#22ab2a" font-family="Liberation Sans, sans-serif" textLength="89.22" lengthAdjust="spacingAndGlyphs" stroke="#22ab2a" stroke-width="0.35">70374.7</text><text x="1144.14" y="60" font-size="24" font-weight="normal" font-style="normal" fill="#fff" font-family="Liberation Sans, sans-serif" textLength="17.84" lengthAdjust="spacingAndGlyphs" stroke="#fff" stroke-width="0.35">H</text><text x="1163.11" y="60" font-size="24" font-weight="normal" font-style="normal" fill="#22ab2a" font-family="Liberation Sans, sans-serif" textLength="85.74" lengthAdjust="spacingAndGlyphs" stroke="#22ab2a" stroke-width="0.35">71067.2</text><text x="1262.73" y="60" font-size="24" font-weight="normal" font-style="normal" fill="#fff" font-family="Liberation Sans, sans-serif" textLength="13.85" lengthAdjust="spacingAndGlyphs" stroke="#fff" stroke-width="0.35">L</text><text x="1277.58" y="60" font-size="24" font-weight="normal" font-style="normal" fill="#22ab2a" font-family="Liberation Sans, sans-serif" textLength="88.71" lengthAdjust="spacingAndGlyphs" stroke="#22ab2a" stroke-width="0.35">70583.1</text><text x="1381.29" y="60" font-size="24" font-weight="normal" font-style="normal" fill="#fff" font-family="Liberation Sans, sans-serif" textLength="37.77" lengthAdjust="spacingAndGlyphs" stroke="#fff" stroke-width="0.35">C...</text><text x="35.44" y="971.5" font-size="24" font-weight="normal" font-style="normal" fill="#fff" font-family="Liberation Sans, sans-serif" textLength="573.72" lengthAdjust="spacingAndGlyphs" stroke="#fff" stroke-width="0.35">&lt;Hyblock&gt;Bids &amp; Asks (0%, 5%, All, , , No Filter, , )</text><text x="623.97" y="971.5" font-size="24" font-weight="normal" font-style="normal" fill="#4caf92" font-family="Liberation Sans, sans-serif" textLength="73.47" lengthAdjust="spacingAndGlyphs" stroke="#4caf92" stroke-width="0.35">1.125B</text><text x="710.20" y="971.5" font-size="24" font-weight="normal" font-style="normal" fill="#b07272" font-family="Liberation Sans, sans-serif" textLength="75.97" lengthAdjust="spacingAndGlyphs" stroke="#b07272" stroke-width="0.35">1.572B</text><text x="129.95" y="238.8" font-size="23" font-weight="normal" font-style="italic" fill="#fff" font-family="Liberation Sans, sans-serif" textLength="128.24" lengthAdjust="spacingAndGlyphs">UPTHRUST</text><text x="1085.64" y="574.9" font-size="23" font-weight="normal" font-style="italic" fill="#fff" font-family="Liberation Sans, sans-serif" textLength="128.84" lengthAdjust="spacingAndGlyphs">UPTHRUST</text><text x="1191.00" y="1118.8" font-size="23" font-weight="normal" font-style="italic" fill="#fff" font-family="Liberation Sans, sans-serif" textLength="177.55" lengthAdjust="spacingAndGlyphs">2 MONTH HIGH</text><text x="67.40" y="1578.9" font-size="26.5" font-weight="normal" font-style="normal" fill="#d1d4dc" font-family="Liberation Sans, sans-serif" textLength="147.13" lengthAdjust="spacingAndGlyphs" stroke="#d1d4dc" stroke-width="0.8">TradingView</text><circle cx="323.5" cy="51.4" r="8.5" fill="none" stroke="#fff" stroke-width="2.1"/><text x="323.5" y="56" font-size="15" font-weight="bold" fill="#fff" font-family="Liberation Sans, sans-serif" text-anchor="middle">s</text><circle cx="906.0" cy="51.4" r="8.5" fill="none" stroke="#fff" stroke-width="2.1"/><text x="906.0" y="56" font-size="15" font-weight="bold" fill="#fff" font-family="Liberation Sans, sans-serif" text-anchor="middle">s</text><path d="M20 1558.2h15.7v19.4h-8.5v-11.9h-7.2z" fill="#d1d4dc"/><circle cx="42.3" cy="1562.4" r="4" fill="#d1d4dc"/><path d="M48.3 1558.2h10.7l-6.1 19.4h-10.6z" fill="#d1d4dc"/></svg></body></html>
